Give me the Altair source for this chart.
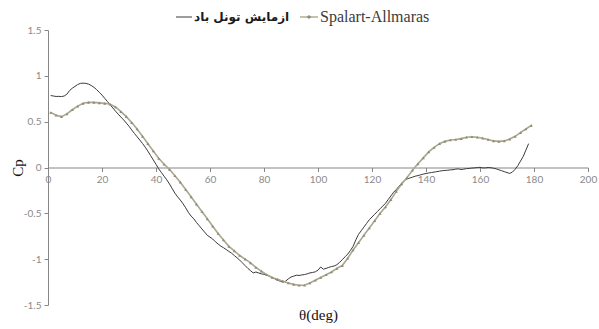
import altair as alt
import pandas as pd

# Wind-tunnel measurement (thin solid line)
theta_exp = list(range(1, 179))
cp_exp = [
    0.785, 0.780, 0.775, 0.776, 0.774, 0.780, 0.800, 0.840, 0.865, 0.885,
    0.905, 0.918, 0.920, 0.918, 0.910, 0.895, 0.875, 0.850, 0.820, 0.790,
    0.755, 0.720, 0.685, 0.650, 0.615, 0.582, 0.550, 0.520, 0.485, 0.450,
    0.410, 0.372, 0.335, 0.300, 0.262, 0.222, 0.178, 0.130, 0.082, 0.035,
    -0.015, -0.055, -0.095, -0.135, -0.180, -0.230, -0.280, -0.320, -0.355, -0.395,
    -0.440, -0.490, -0.530, -0.560, -0.600, -0.635, -0.670, -0.705, -0.740, -0.760,
    -0.780, -0.810, -0.835, -0.858, -0.875, -0.895, -0.915, -0.935, -0.960, -0.985,
    -1.010, -1.040, -1.070, -1.100, -1.125, -1.150, -1.140, -1.150, -1.160, -1.165,
    -1.175, -1.185, -1.200, -1.215, -1.230, -1.240, -1.250, -1.240, -1.215, -1.195,
    -1.185, -1.175, -1.178, -1.172, -1.168, -1.160, -1.150, -1.145, -1.138, -1.120,
    -1.085, -1.110, -1.100, -1.090, -1.080, -1.075, -1.060, -1.035, -1.005, -0.975,
    -0.945, -0.905, -0.860, -0.790, -0.730, -0.690, -0.650, -0.610, -0.570, -0.540,
    -0.510, -0.480, -0.450, -0.420, -0.390, -0.350, -0.310, -0.270, -0.240, -0.205,
    -0.170, -0.140, -0.125, -0.115, -0.105, -0.095, -0.088, -0.080, -0.072, -0.065,
    -0.060, -0.055, -0.050, -0.045, -0.040, -0.035, -0.032, -0.030, -0.026, -0.024,
    -0.018, -0.015, -0.022, -0.018, -0.012, -0.010, -0.006, -0.004, 0.000, 0.002,
    -0.004, -0.004, 0.000, -0.002, -0.008, -0.015, -0.025, -0.035, -0.045, -0.055,
    -0.065, -0.050, -0.020, 0.020, 0.070, 0.120, 0.190, 0.260,
]

# Spalart-Allmaras simulation (line with markers)
theta_sa = list(range(1, 180, 2))
cp_sa = [
    0.600, 0.570, 0.555, 0.585, 0.630, 0.670, 0.700, 0.710, 0.710, 0.705,
    0.700, 0.690, 0.660, 0.610, 0.555, 0.490, 0.420, 0.340, 0.260, 0.180,
    0.100, 0.035, -0.020, -0.090, -0.160, -0.240, -0.320, -0.400, -0.480, -0.560,
    -0.640, -0.720, -0.790, -0.860, -0.910, -0.960, -1.000, -1.040, -1.090, -1.130,
    -1.170, -1.200, -1.220, -1.240, -1.260, -1.275, -1.285, -1.285, -1.260, -1.230,
    -1.200, -1.170, -1.140, -1.100, -1.070, -0.990, -0.900, -0.820, -0.740, -0.660,
    -0.580, -0.500, -0.430, -0.350, -0.260, -0.180, -0.110, -0.030, 0.040, 0.105,
    0.170, 0.220, 0.260, 0.285, 0.300, 0.305, 0.315, 0.330, 0.335, 0.330,
    0.320, 0.305, 0.290, 0.285, 0.290, 0.310, 0.340, 0.380, 0.420, 0.460,
]

series_names = ["ازمایش تونل باد", "Spalart-Allmaras"]
x_ticks = list(range(0, 201, 20))
y_ticks = [-1.5, -1.0, -0.5, 0.0, 0.5, 1.0, 1.5]

W, H = 540, 275
EXP_COLOR = "#3a3a3a"
SA_COLOR = "#aaa78e"
SA_MARK = "#8e8b76"
AXIS_GRAY = "#868686"

exp_df = pd.DataFrame({"theta": theta_exp, "cp": cp_exp})
sa_df = pd.DataFrame({"theta": theta_sa, "cp": cp_sa})

x_scale = alt.Scale(domain=[0, 200], nice=False, zero=False)
y_scale = alt.Scale(domain=[-1.5, 1.5], nice=False, zero=False)

# x axis sits on the Cp = 0 line, in the middle of the plot
x_axis = alt.Axis(
    values=x_ticks, offset=-H / 2, grid=False,
    labelFlush=False, labelOverlap=False,
    domainColor=AXIS_GRAY, tickColor=AXIS_GRAY, tickSize=4,
    labelColor="#8a8a8a", labelFont="Lato", labelFontSize=10, labelPadding=3,
    title="θ(deg)", titleFont="Liberation Serif", titleFontSize=15,
    titleFontWeight="normal", titleColor="#111111",
    titleX=W / 2, titleY=147, titleBaseline="middle",
)
y_axis = alt.Axis(
    values=y_ticks, grid=False, labelExpr="toString(datum.value)",
    labelFlush=False, labelOverlap=False,
    domainColor=AXIS_GRAY, tickColor=AXIS_GRAY, tickSize=4,
    labelColor="#8a8a8a", labelFont="Lato", labelFontSize=10, labelPadding=3,
    title="Cp", titleFont="Liberation Serif", titleFontSize=15,
    titleFontWeight="normal", titleColor="#111111",
    titleX=-31, titleY=H / 2, titleAngle=270, titleAlign="center",
    titleBaseline="middle",
)

x_enc = alt.X("theta:Q", scale=x_scale, axis=x_axis)
y_enc = alt.Y("cp:Q", scale=y_scale, axis=y_axis)

exp_line = alt.Chart(exp_df).mark_line(
    color=EXP_COLOR, strokeWidth=1
).encode(x=x_enc, y=y_enc)

sa_line = alt.Chart(sa_df).mark_line(
    color=SA_COLOR, strokeWidth=1.6
).encode(x=x_enc, y=y_enc)

sa_pts = alt.Chart(sa_df).mark_point(
    shape="triangle-up", filled=True, size=9, color=SA_MARK, opacity=1
).encode(x=x_enc, y=y_enc)

# Legend row above the plot
leg_y = -13
leg_exp_line = alt.Chart(pd.DataFrame({"k": [0]})).mark_rule(
    color=EXP_COLOR, strokeWidth=1
).encode(x=alt.value(128), x2=alt.value(144), y=alt.value(leg_y))
leg_exp_text = alt.Chart(pd.DataFrame({"label": [series_names[0]]})).mark_text(
    align="left", baseline="middle", font="DejaVu Sans", fontWeight="bold",
    fontSize=12, color="#1a1a1a"
).encode(x=alt.value(146), y=alt.value(leg_y), text="label:N")
leg_sa_line = alt.Chart(pd.DataFrame({"k": [0]})).mark_rule(
    color=SA_COLOR, strokeWidth=1.4
).encode(x=alt.value(252), x2=alt.value(270), y=alt.value(leg_y))
leg_sa_pt = alt.Chart(pd.DataFrame({"k": [0]})).mark_point(
    shape="cross", filled=True, size=14, color=SA_MARK, opacity=1
).encode(x=alt.value(261), y=alt.value(leg_y))
leg_sa_text = alt.Chart(pd.DataFrame({"label": [series_names[1]]})).mark_text(
    align="left", baseline="middle", font="Liberation Serif", fontSize=16,
    color="#3c3c3c"
).encode(x=alt.value(272), y=alt.value(leg_y), text="label:N")

chart = alt.layer(
    exp_line, sa_line, sa_pts,
    leg_exp_line, leg_exp_text, leg_sa_line, leg_sa_pt, leg_sa_text,
).properties(
    width=W, height=H,
    autosize=alt.AutoSizeParams(type="none"),
    padding={"left": 48, "top": 30, "right": 11, "bottom": 24},
    background="white",
).configure_view(stroke=None)

chart.save("out.html", embed_options={"renderer": "svg", "actions": False})
